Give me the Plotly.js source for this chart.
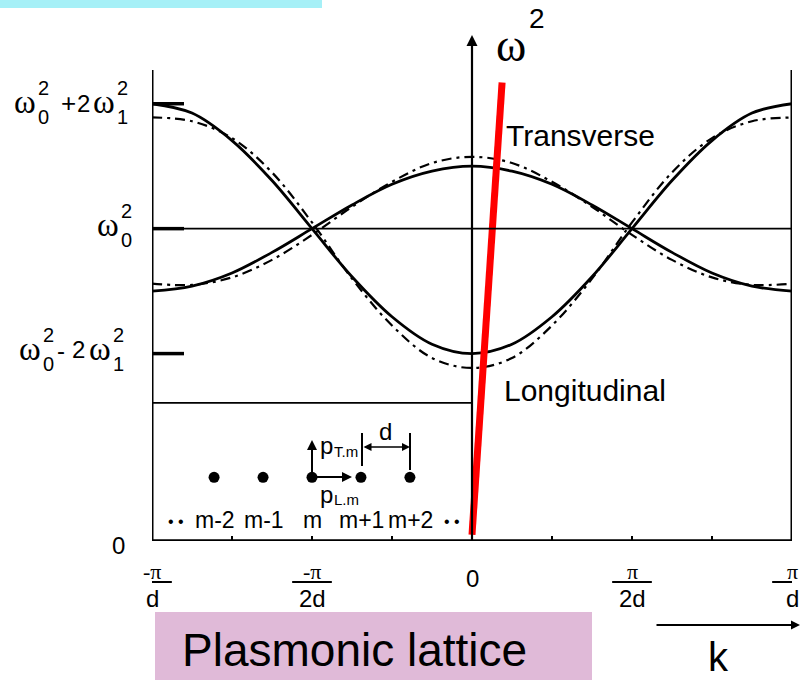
<!DOCTYPE html>
<html><head><meta charset="utf-8">
<script src="https://cdn.plot.ly/plotly-3.0.1.min.js"></script>
<style>html,body{margin:0;padding:0;background:#fff;}#chart{width:812px;height:680px;}</style>
</head><body><div id="chart"></div>
<script>
// wave vector k in units of pi/d
const kValues = [-1,-0.875,-0.75,-0.625,-0.5,-0.375,-0.25,-0.125,0,0.125,0.25,0.375,0.5,0.625,0.75,0.875,1];
// omega^2 in units of omega1^2 (omega0^2 = 5)
const transverseSolid     = [4.00,4.08,4.29,4.62,5.00,5.38,5.71,5.92,6.00,5.92,5.71,5.38,5.00,4.62,4.29,4.08,4.00];
const longitudinalSolid   = [7.00,6.85,6.41,5.77,5.00,4.23,3.59,3.15,3.00,3.15,3.59,4.23,5.00,5.77,6.41,6.85,7.00];
const transverseDashDot   = [4.12,4.10,4.22,4.50,4.90,5.35,5.75,6.05,6.15,6.05,5.75,5.35,4.90,4.50,4.22,4.10,4.12];
const longitudinalDashDot = [6.78,6.72,6.45,5.90,5.10,4.20,3.45,2.93,2.77,2.93,3.45,4.20,5.10,5.90,6.45,6.72,6.78];
// light line (red)
const lightK = [0.0, 0.094];
const lightW = [0.1, 7.34];
// reference levels
const omega0Sq = 5;
const levelVals = [7, 5, 3];
const bandBottom = 2.21;
const frameTop = 7.54;
const axisTop = 8.1;
// x tick labels
const xTickVals = [-1, -0.5, 0.5, 1];
const xTickNum = ['-π', '-π', 'π', 'π'];
const xTickDen = ['d', '2d', '2d', 'd'];
const xMinorTicks = [-0.75, -0.5, -0.25, 0, 0.25, 0.5, 0.75];
// lattice inset
const latticeK = [-0.806, -0.653, -0.5, -0.347, -0.194];
const latticeY = [1.02, 1.02, 1.02, 1.02, 1.02];
const latticeLabels = ['m-2', 'm-1', 'm', 'm+1', 'm+2'];

const PL = 152, PT = 35, PW = 640, PH = 506;
const px = x => (x - PL) / PW;
const py = y => (PT + PH - y) / PH;
const SANS = 'Liberation Sans, Arial, sans-serif';
const SERIF = 'Liberation Serif, DejaVu Serif, serif';
function txt(x, y, text, size, family, extra) {
  return Object.assign({xref:'paper', yref:'paper', x:px(x), y:py(y), text:text, showarrow:false,
    xanchor:'center', yanchor:'middle', font:{family:family||SANS, size:size, color:'#000'}}, extra||{});
}
function pline(x0,y0,x1,y1,w){return {type:'line',xref:'paper',yref:'paper',x0:px(x0),y0:py(y0),x1:px(x1),y1:py(y1),line:{color:'#000',width:w}};}

const traces = [
  {x:kValues, y:transverseDashDot, mode:'lines', line:{color:'#000', width:2.2, dash:'10px,5px,3px,5px', shape:'spline'}},
  {x:kValues, y:longitudinalDashDot, mode:'lines', line:{color:'#000', width:2.2, dash:'10px,5px,3px,5px', shape:'spline'}},
  {x:kValues, y:transverseSolid, mode:'lines', line:{color:'#000', width:2.8, shape:'spline'}},
  {x:kValues, y:longitudinalSolid, mode:'lines', line:{color:'#000', width:2.8, shape:'spline'}},
  {x:latticeK, y:latticeY, mode:'markers', marker:{color:'#000', size:11}},
  {x:lightK, y:lightW, mode:'lines', line:{color:'#ff0000', width:7}}
];

const shapes = [
  {type:'rect', xref:'paper', yref:'paper', x0:px(0), x1:px(322), y0:py(0), y1:py(8), fillcolor:'#a6f0f7', line:{width:0}, layer:'below'},
  {type:'rect', xref:'paper', yref:'paper', x0:px(155), x1:px(592), y0:py(612), y1:py(680), fillcolor:'#e0bad8', line:{width:0}, layer:'below'},
  {type:'line', x0:-1, x1:-1, y0:0, y1:frameTop, line:{color:'#000', width:3}},
  {type:'line', x0:1, x1:1, y0:0, y1:frameTop, line:{color:'#000', width:3}},
  {type:'line', x0:-1, x1:1, y0:0, y1:0, line:{color:'#000', width:3.5}},
  {type:'line', x0:-1, x1:1, y0:omega0Sq, y1:omega0Sq, line:{color:'#000', width:1.7}},
  {type:'line', x0:-1, x1:0, y0:bandBottom, y1:bandBottom, line:{color:'#000', width:1.7}},
];
levelVals.forEach(v => shapes.push({type:'line', x0:-1, x1:-0.9, y0:v, y1:v, line:{color:'#000', width:3.5}}));
xTickVals.forEach(v => shapes.push({type:'line', xref:'x', yref:'paper', x0:v-0.062, x1:v+0.062, y0:py(582), y1:py(582), line:{color:'#000', width:1.8}}));
shapes.push(pline(362,433,362,466,2));
shapes.push(pline(410,433,410,470,2));

const ann = [];
ann.push({x:0, y:axisTop, ax:0, ay:0, xref:'x', yref:'y', axref:'x', ayref:'y', showarrow:true, arrowhead:2, arrowsize:1, arrowwidth:2.2, arrowcolor:'#000', text:''});
ann.push(txt(511, 46, 'ω', 46, SERIF));
ann.push(txt(537, 19, '2', 28, SANS));
function omegaPiece(x, lvl, sub) {
  ann.push(txt(x, lvl, 'ω', 33, SERIF));
  ann.push(txt(x+18, lvl-14, '2', 20, SANS));
  ann.push(txt(x+18, lvl+15, sub, 20, SANS));
}
omegaPiece(25, 102, '0'); ann.push(txt(68, 103, '+', 26, SANS)); ann.push(txt(83, 103, '2', 24, SANS)); omegaPiece(104, 102, '1');
omegaPiece(108, 225, '0');
omegaPiece(30, 349, '0'); ann.push(txt(61, 350, '-', 24, SANS)); ann.push(txt(78, 349, '2', 24, SANS)); omegaPiece(100, 349, '1');
ann.push(txt(118, 545, '0', 24, SANS));
xTickVals.forEach((v,i) => {
  ann.push({xref:'x', yref:'paper', x:v, y:py(571), text:xTickNum[i], showarrow:false, xanchor:'center', yanchor:'middle', font:{family:SERIF, size:22, color:'#000'}});
  ann.push({xref:'x', yref:'paper', x:v, y:py(598), text:xTickDen[i], showarrow:false, xanchor:'center', yanchor:'middle', font:{family:SANS, size:24, color:'#000'}});
});
ann.push({xref:'x', yref:'paper', x:0, y:py(578), text:'0', showarrow:false, xanchor:'center', yanchor:'middle', font:{family:SANS, size:24, color:'#000'}});
ann.push(txt(580, 135, 'Transverse', 30, SANS));
ann.push(txt(585, 390, 'Longitudinal', 30, SANS));
latticeLabels.forEach((t,i) => ann.push({xref:'x', yref:'paper', x:latticeK[i]+0.002, y:py(520), text:t, showarrow:false, xanchor:'center', yanchor:'middle', font:{family:SANS, size:23, color:'#000'}}));
ann.push(txt(176, 521, '• •', 16, SANS));
ann.push(txt(452, 521, '• •', 16, SANS));
ann.push({xref:'paper', yref:'paper', x:px(312), y:py(440), ax:0, ay:37, showarrow:true, arrowhead:2, arrowwidth:2, arrowcolor:'#000', text:''});
ann.push({xref:'paper', yref:'paper', x:px(352), y:py(477), ax:-40, ay:0, showarrow:true, arrowhead:2, arrowwidth:2, arrowcolor:'#000', text:''});
ann.push({xref:'paper', yref:'paper', x:px(410), y:py(447), ax:-48, ay:0, showarrow:true, arrowhead:2, arrowside:'end+start', arrowwidth:1.6, arrowcolor:'#000', text:''});
ann.push(txt(326, 445, 'p', 24, SANS)); ann.push(txt(346, 451, 'T.m', 15, SANS));
ann.push(txt(326, 494, 'p', 24, SANS)); ann.push(txt(346, 499, 'L.m', 15, SANS));
ann.push(txt(385, 431, 'd', 24, SANS));
ann.push(txt(354, 650, 'Plasmonic lattice', 46, SANS));
ann.push(txt(718, 657, 'k', 40, SANS));
ann.push({xref:'paper', yref:'paper', x:px(800), y:py(625), ax:-145, ay:0, showarrow:true, arrowhead:2, arrowwidth:1.8, arrowcolor:'#000', text:''});

const layout = {
  width:812, height:680, margin:{l:PL, r:812-PL-PW, t:PT, b:680-PT-PH},
  paper_bgcolor:'#fff', plot_bgcolor:'rgba(0,0,0,0)', showlegend:false,
  xaxis:{range:[-1,1], showgrid:false, zeroline:false, showline:false, tickmode:'array', tickvals:xMinorTicks, ticks:'inside', ticklen:5, tickwidth:2, tickcolor:'#000', showticklabels:false, fixedrange:true},
  yaxis:{range:[0,axisTop], showgrid:false, zeroline:false, showline:false, showticklabels:false, ticks:'', fixedrange:true},
  shapes:shapes, annotations:ann
};
Plotly.newPlot('chart', traces, layout, {staticPlot:true, displayModeBar:false});
</script></body></html>
